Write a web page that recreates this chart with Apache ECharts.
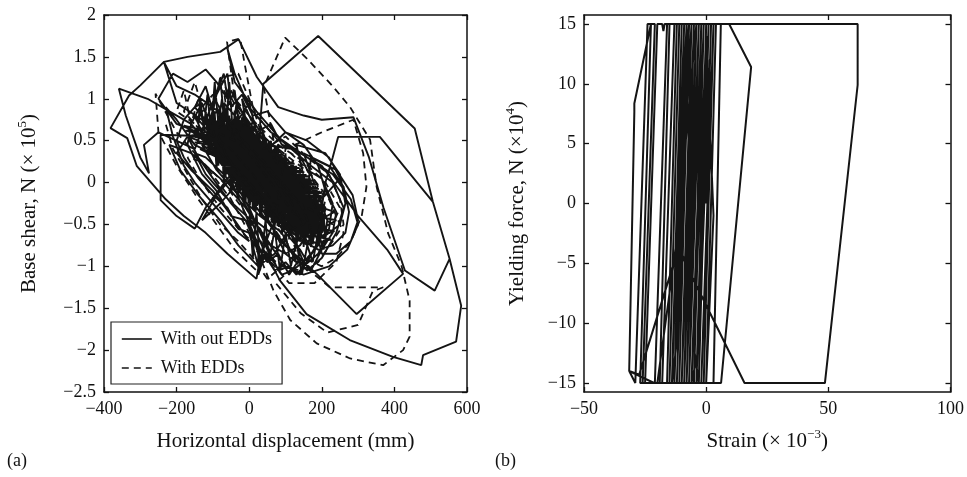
<!DOCTYPE html>
<html>
<head>
<meta charset="utf-8">
<script src="https://cdn.jsdelivr.net/npm/echarts@6/dist/echarts.min.js"></script>
<style>
html,body{margin:0;padding:0;background:#fff;}
#c{width:967px;height:477px;}
</style>
</head>
<body>
<div id="c"></div>
<script>
// ---- Panel (a): base shear vs horizontal displacement ----
var dispTicks = [-400, -200, 0, 200, 400, 600];
var shearTicks = [-2.5, -2, -1.5, -1, -0.5, 0, 0.5, 1, 1.5, 2];
var seriesNames = ['With out EDDs', 'With EDDs'];

// Without EDDs (solid), [displacement mm, base shear x1e5 N]
var withoutEDDs = [
[30,0],[90,-0.3],[140,-0.5],[120,-0.25],[60,0.1],[0,0.35],[-50,0.5],[-30,0.25],[20,-0.05],
[80,-0.35],[150,-0.65],[170,-0.45],[110,-0.1],[40,0.25],[-30,0.55],[-80,0.7],[-60,0.4],[0,0.05],
[60,-0.25],[120,-0.6],[160,-0.75],[180,-0.5],[130,-0.15],[70,0.15],[10,0.45],[-60,0.75],[-100,0.65],[-70,0.35],[-10,0],
[50,-0.3],[100,-0.5],[155,-0.55],[130,-0.3],[80,0],[20,0.3],[-40,0.45],[-20,0.15],[40,-0.15],
[110,-0.45],[175,-0.7],[195,-0.4],[150,-0.1],[90,0.2],[30,0.4],[-30,0.6],[-90,0.85],[-120,0.7],[-80,0.45],[-20,0.1],
[30,-0.2],[90,-0.55],[140,-0.8],[160,-0.95],[190,-0.7],[150,-0.35],[100,-0.05],[40,0.2],[-20,0.45],[-70,0.55],[-40,0.25],[10,-0.05],
[70,-0.3],[120,-0.45],[90,-0.2],[40,0.05],[-10,0.25],[-60,0.4],[-40,0.15],[10,-0.1],
[80,-0.4],[130,-0.7],[100,-0.55],[60,-0.3],[0,0],[-50,0.3],[-110,0.55],[-130,0.45],[-90,0.15],[-30,-0.15],[30,-0.4],
[90,-0.6],[130,-0.95],[100,-0.85],[60,-0.5],[20,-0.2],[-20,0.1],[-80,0.45],[-150,0.8],[-130,0.6],[-80,0.25],[-20,-0.05],[40,-0.3],
[100,-0.3],[160,-0.45],[200,-0.25],[170,0],[110,0.15],[50,0.4],[-10,0.65],[-70,0.95],[-60,0.7],[-10,0.35],[50,0],
[110,-0.2],[170,-0.3],[150,-0.05],[90,0.2],[20,0.5],[-40,0.8],[-20,0.55],[30,0.25],[80,-0.05],[120,-0.35],
[150,-0.6],[200,-0.6],[210,-0.3],[160,0],[100,0.3],[40,0.55],[0,0.8],[-20,1.0],[-10,0.75],[30,0.4],[80,0.1],
[130,-0.3],[170,-0.55],[140,-0.75],[100,-0.85],[60,-0.75],[20,-0.5],[-20,-0.2],[-70,0.1],[-120,0.3],[-150,0.35],[-120,0.1],[-70,-0.15],[-20,-0.35],[30,-0.55],[60,-0.85],[80,-1.05],[110,-1.0],[140,-1.1],[150,-0.95],
[120,-0.65],[70,-0.4],[20,-0.1],[-30,0.2],[-80,0.5],[-100,0.75],[-60,0.55],[0,0.2],[60,-0.1],[110,-0.35],[160,-0.4],[180,-0.15],[130,0.1],[70,0.35],[20,0.6],[-30,0.9],[-50,1.1],[-20,0.85],
[20,0.5],[70,0.2],[120,0],[170,-0.2],[200,-0.45],[190,-0.75],[160,-0.9],[120,-1.05],[90,-1.1],[60,-0.9],[30,-0.6],[0,-0.3],[-40,0],[-90,0.3],[-140,0.5],[-170,0.55],[-140,0.3],[-100,0.05],[-50,-0.25],[0,-0.5],[25,-0.85],[25,-1.1],[40,-0.9],
// dense core sweeps
[-105,0.6],[-25,0.575],[-110,0.55],[3,0.525],[-110,0.5],[28,0.475],[-108,0.45],[50,0.425],[-104,0.4],[70,0.375],[-98,0.35],[90,0.325],[-90,0.3],[109,0.275],[-82,0.25],[125,0.225],[-72,0.2],[139,0.175],[-62,0.15],[152,0.125],[-52,0.1],[164,0.075],[-40,0.05],[175,0.025],[-30,0],[184,-0.025],[-18,-0.05],[192,-0.075],[-5,-0.1],[198,-0.125],[8,-0.15],[202,-0.175],[22,-0.2],[204,-0.225],[36,-0.25],[205,-0.275],[50,-0.3],[204,-0.325],[66,-0.35],[200,-0.375],[82,-0.4],[194,-0.425],[100,-0.45],[185,-0.475],[120,-0.5],[173,-0.525],[140,-0.55],[160,-0.56],
[165,-0.54],[110,-0.49],[188,-0.46],[90,-0.44],[197,-0.41],[74,-0.39],[202,-0.36],[58,-0.34],[205,-0.31],[43,-0.29],[205,-0.26],[29,-0.24],[203,-0.21],[15,-0.19],[200,-0.16],[1,-0.14],[195,-0.11],[-12,-0.09],[190,-0.06],[-24,-0.04],[180,-0.01],[-35,0.01],[170,0.04],[-46,0.06],[158,0.09],[-57,0.11],[146,0.14],[-67,0.16],[132,0.19],[-77,0.21],[118,0.24],[-86,0.26],[100,0.29],[-94,0.31],[80,0.34],[-101,0.36],[60,0.39],[-106,0.41],[40,0.44],[-109,0.46],[15,0.49],[-110,0.51],[-10,0.54],[-108,0.56],[-40,0.59],[-100,0.61],
[-90,0.74],[-82,0.26],[-74,0.77],[-66,0.13],[-58,0.77],[-50,0.01],[-42,0.76],[-34,-0.09],[-26,0.75],[-18,-0.17],[-10,0.71],[-2,-0.25],[6,0.67],[14,-0.32],[22,0.61],[30,-0.38],[38,0.56],[46,-0.43],[54,0.5],[62,-0.48],[70,0.42],[78,-0.52],[86,0.34],[94,-0.56],[102,0.26],[110,-0.58],[118,0.17],[126,-0.6],[134,0.07],[142,-0.62],[150,-0.04],[158,-0.62],[166,-0.16],[174,-0.61],[182,-0.28],[190,-0.59],
[186,-0.31],[178,-0.61],[170,-0.19],[162,-0.62],[154,-0.07],[146,-0.62],[138,0.05],[130,-0.61],[122,0.15],[114,-0.59],[106,0.24],[98,-0.57],[90,0.32],[82,-0.53],[74,0.4],[66,-0.49],[58,0.48],[50,-0.45],[42,0.55],[34,-0.4],[26,0.6],[18,-0.34],[10,0.66],[2,-0.27],[-6,0.7],[-14,-0.19],[-22,0.74],[-30,-0.11],[-38,0.76],[-46,-0.02],[-54,0.77],[-62,0.1],[-70,0.77],[-78,0.22],[-86,0.75],[-94,0.4],
[-180,0.68],[-120,0.62],[-175,0.62],[-110,0.56],[-165,0.56],[-105,0.5],[-150,0.48],[-100,0.44],[-135,0.4],
[200,-0.3],[235,-0.35],[205,-0.42],[240,-0.45],[200,-0.55],[235,-0.58],[190,-0.65],[225,-0.68],[180,-0.72],
[-100,0.72],[-90,0.36],[-75,0.73],[-60,0.13],[-45,0.7],[-30,-0.04],[-15,0.65],[0,-0.19],[15,0.57],[30,-0.32],[45,0.47],[60,-0.42],[75,0.36],[90,-0.52],[105,0.23],[120,-0.6],[135,0.08],[150,-0.65],[165,-0.11],[180,-0.64],[195,-0.37],[205,-0.55],
[200,-0.6],[188,-0.2],[172,-0.72],[158,0.0],[142,-0.68],[128,0.15],[112,-0.6],[98,0.28],[82,-0.5],[68,0.4],[52,-0.38],[38,0.5],[22,-0.28],[8,0.6],[-8,-0.12],[-22,0.68],[-38,0.02],[-52,0.72],[-68,0.2],[-82,0.75],[-95,0.45],[-110,0.65],
[-120,0.84],[-110,0.33],[-100,0.91],[-90,0.16],[-80,0.92],[-70,0.01],[-60,0.9],[-50,-0.1],[-40,0.86],[-30,-0.18],[-20,0.78],[-10,-0.25],[0,0.71],[10,-0.32],[20,0.64],[30,-0.4],[40,0.57],[50,-0.47],[60,0.5],[70,-0.54],[80,0.42],[90,-0.61],[100,0.35],[110,-0.68],[120,0.27],[130,-0.74],[140,0.17],[150,-0.77],[160,0.05],[170,-0.77],[180,-0.11],[190,-0.75],[200,-0.29],[210,-0.68],
[205,-0.38],[195,-0.71],[185,-0.17],[175,-0.74],[165,-0.03],[155,-0.73],[145,0.09],[135,-0.67],[125,0.16],[115,-0.6],[105,0.23],[95,-0.53],[85,0.31],[75,-0.46],[65,0.38],[55,-0.39],[45,0.45],[35,-0.31],[25,0.52],[15,-0.24],[5,0.59],[-5,-0.17],[-15,0.67],[-25,-0.1],[-35,0.74],[-45,-0.03],[-55,0.8],[-65,0.08],[-75,0.83],[-85,0.2],[-95,0.82],[-105,0.38],[-115,0.76],
[-100,0.35],[-60,0.9],[-70,0.1],[-10,0.75],[-30,-0.1],[30,0.6],[10,-0.3],[80,0.45],[50,-0.45],[120,0.25],[90,-0.6],[160,0.0],[130,-0.72],[195,-0.3],[170,-0.75],
// halo loops
[-150,0.9],[-120,1.15],[-100,0.85],[-80,1.25],[-70,0.8],[-40,1.1],[-30,0.75],[0,0.95],[20,0.6],[60,0.7],[90,0.45],[130,0.4],[160,0.15],[200,0.05],[230,-0.25],[220,-0.55],[190,-0.85],[150,-1.0],[130,-1.1],[100,-0.95],[70,-1.05],[40,-0.85],[25,-1.0],[0,-0.6],[-30,-0.55],[-60,-0.3],[-100,-0.15],[-140,0.05],[-180,0.3],[-200,0.5],[-180,0.75],[-150,0.9],
[-130,0.95],[-110,0.7],[-90,1.05],[-60,1.3],[-50,0.9],[-20,1.05],[10,0.8],[50,0.85],[100,0.6],[150,0.45],[190,0.2],[210,-0.1],[240,-0.35],[230,-0.6],[200,-0.8],[170,-1.05],[140,-0.9],[110,-1.1],[80,-0.85],[50,-0.95],[20,-0.75],[-10,-0.45],[-50,-0.4],[-90,-0.1],[-130,0.1],[-170,0.45],[-160,0.7],[-130,0.95],
[-140,0.7],[-135,1.0],[-125,0.65],[-115,1.05],[-105,0.6],[-95,1.2],[-85,0.7],[-75,1.0],[-65,0.55],[-55,1.2],[-45,0.6],[-35,0.95],[-25,0.5],[-15,0.85],[-5,0.45],[10,0.75],[30,0.45],
[0,-0.3],[10,-0.9],[20,-0.35],[30,-1.05],[45,-0.45],[55,-0.95],[70,-0.55],[85,-1.05],[100,-0.6],[115,-1.0],[130,-0.7],[145,-1.1],[160,-0.75],[175,-0.95],[190,-0.6],[205,-0.8],[215,-0.45],
[150,0.35],[220,0.2],[260,-0.05],[275,-0.35],[265,-0.6],[230,-0.75],[190,-0.8],[150,-0.7],
[170,0.3],[240,0.15],[285,-0.15],[300,-0.45],[280,-0.7],[240,-0.85],[200,-0.85],
[130,0.45],[210,0.35],[250,0.1],[265,-0.25],[250,-0.5],[205,-0.65],
[-80,0.3],[-150,0.45],[-200,0.75],[-230,0.9],[-210,0.55],[-180,0.2],[-150,0],[-110,-0.2],[-70,-0.4],[-30,-0.6],[0,-0.7],[-40,-0.45],[-100,-0.1],[-160,0.15],[-200,0.35],[-170,0.55],[-120,0.6],
// outer excursions
[-20,0.6],[-100,0.9],[-150,1.05],[-200,1.15],[-235,1.44],[-300,1.16],[-331,1.04],[-382,0.65],[-336,0.53],[-310,0.2],[-270,0],[-230,-0.2],[-180,-0.4],[-120,-0.6],[-60,-0.85],[20,-1.15],[30,-0.9],[60,-0.55],
[100,-0.3],[40,0.1],[-30,0.45],[-130,0.75],[-200,0.95],[-235,1.44],[-170,1.5],[-80,1.56],[-29,1.71],[21,1.26],[80,0.9],[150,0.8],[200,0.75],[287,0.78],[330,0.3],[370,-0.3],[429,-1.05],[511,-1.29],[552,-0.91],[506,-0.23],[360,0.545],[245,0.545],[230,0.3],[210,0],[200,-0.3],[150,-0.6],
[100,-0.2],[30,0.7],[39,1.18],[190,1.75],[456,0.645],[506,-0.23],[552,-0.91],[584,-1.47],[570,-1.9],[479,-2.06],[474,-2.18],[396,-2.08],[277,-1.88],[158,-1.57],[85,-1.17],[40,-0.8],[0,-0.4],
[60,-0.6],[186,-1.09],[296,-1.57],[424,-1.09],[380,-0.8],[300,-0.4],[250,-0.1],[200,0.2],[120,0.4],
[-100,0.55],[-244,0.57],[-244,-0.21],[-200,-0.4],[-150,-0.55],[-120,-0.3],[-50,0.1],
[-160,0.7],[-280,1.0],[-359,1.12],[-340,0.8],[-300,0.3],[-276,0.11],[-290,0.45],[-250,0.6],[-150,0.4],
[-70,1.3],[-60,1.0],[-90,1.2],[-120,1.35],[-170,1.2],[-210,1.3],[-250,1.0],[-200,0.7],[-140,0.6],
[-60,0.2],[20,-0.3],[100,-0.75],[160,-1.05],[200,-0.9],[240,-0.6],[260,-0.3],[230,0],[170,0.2],[90,0.5],[20,0.85],[-40,1.2],[-60,1.6],[-40,1.3],[0,0.9],
[60,0.6],[160,0.3],[230,0.1],[280,-0.2],[300,-0.5],[270,-0.8],[220,-1.0],[150,-1.1],[100,-1.0],[50,-0.7],
[-10,-0.3],[-80,0.05],[-160,0.35],[-220,0.45],[-190,0.15],[-140,-0.15],[-80,-0.45],[-30,-0.75],[25,-1.0],[70,-0.85],[110,-0.55],[160,-0.3],[210,-0.15],[250,0.05],[220,0.3],[160,0.5],[100,0.6],
[40,0.35],[-20,0.05],[-80,-0.25],[-130,-0.45],[-90,-0.15],[-40,0.1],[20,0.4]
];

// With EDDs (dashed)
var withEDDs = [
[0,0],[60,-0.3],[120,-0.55],[150,-0.5],[110,-0.2],[50,0.15],[-10,0.45],[-70,0.7],[-100,0.6],[-60,0.3],[0,-0.05],
[70,-0.4],[130,-0.7],[170,-0.6],[150,-0.3],[90,0],[30,0.3],[-40,0.6],[-110,0.9],[-150,0.8],[-120,0.45],[-60,0.15],[0,-0.2],
[60,-0.5],[110,-0.8],[150,-1.0],[180,-0.8],[200,-0.45],[160,-0.1],[100,0.2],[30,0.5],[-30,0.8],[-70,1.1],[-60,0.8],[-10,0.45],
[60,0.1],[120,-0.2],[180,-0.35],[230,-0.5],[250,-0.3],[210,0],[150,0.25],[80,0.45],[20,0.7],[-40,1.0],[-61,1.68],[-25,1.72],[-11,1.38],[10,0.9],[40,0.5],
[80,0.2],[40,1.14],[99,1.73],[159,1.48],[230,1.15],[278,0.9],[333,0.51],[351,-0.05],[383,-0.61],[420,-1.0],[442,-1.41],[442,-1.84],[424,-2.0],[369,-2.18],[278,-2.1],[186,-1.92],[113,-1.64],[67,-1.29],[40,-1.0],[0,-0.6],
[-50,-0.2],[-120,0.2],[-200,0.6],[-258,1.06],[-250,0.6],[-200,0.2],[-140,-0.2],[-90,-0.5],[-40,-0.8],[20,-1.05],[60,-0.8],
[100,0.4],[200,0.6],[287,0.75],[314,0.35],[323,-0.05],[310,-0.4],[280,-0.7],[240,-0.9],[200,-1.0],[150,-0.9],
[73,-1.2],[142,-1.56],[215,-1.79],[300,-1.7],[340,-1.3],[369,-1.25],[222,-1.25],[180,-1.1],[130,-0.9],
[80,-0.55],[20,-0.2],[-40,0.15],[-100,0.45],[-180,0.85],[-150,1.2],[-130,0.9],[-100,1.05],[-60,0.7],[0,0.35],
[60,0],[120,-0.35],[170,-0.55],[140,-0.25],[80,0.05],[20,0.3],[-40,0.5],[-90,0.6],[-60,0.3],[0,0],[50,-0.25],[100,-0.5],
[140,-0.7],[190,-0.6],[210,-0.2],[170,0.1],[110,0.3],[50,0.5],[-10,0.7],[-80,1.25],[-30,1.3],[20,0.8],[80,0.5],[150,0.2],
[220,-0.2],[260,-0.6],[240,-0.95],[180,-1.2],[110,-1.2],[60,-0.95],[20,-0.6],[-20,-0.3],[-70,0],[-130,0.25],[-170,0.3],
[-130,0],[-80,-0.3],[-30,-0.55],[30,-0.8],[90,-1.0],[130,-0.85],[110,-0.5],[60,-0.2],[10,0.1],[-50,0.4],
[-200,0.85],[-180,1.1],[-160,0.7],[-140,1.0],[-120,0.55],[-80,0.9],[-40,0.5],[0,0.8],[40,0.4],[100,0.55],[160,0.3],[220,0.1],[250,-0.2],[260,-0.5],[230,-0.7],[190,-0.95],[140,-1.05],[90,-1.0],[50,-1.15],[10,-0.9],[-30,-0.7],[-80,-0.5],[-130,-0.2],[-170,0.1],[-210,0.4],[-230,0.7]
];

// ---- Panel (b): yielding force vs strain ----
var strainTicks = [-50, 0, 50, 100];
var forceTicks = [-15, -10, -5, 0, 5, 10, 15];
// [strain x1e-3, force x1e4 N]
var forceStrain = [
[0,0],[2,15],[-2,15],[-5,-15],[-2,-15],[3,15],[0,15],[-3,-15],[-7,-15],[-3,15],[-6,15],[-10,-15],[-8,-15],[-4,15],
[-9,15],[-13,-15],[-18,-15],[-13,15],[-16,15],[-21,-15],[-25,-15],[-20,15],[-18,15],[-17.5,14.4],[-17,15],
[-8,15],[-13,-15],[-10,-15],[-5,15],[-2,15],[-7,-15],[-4,-15],[1,15],[-1,15],[-6,-15],[-3,-12],[1.5,12],[1.5,5.8],[-1,-15],
[-9,-15],[-5,15],[-10,15],[-14,-15],[-12,-11.5],[-8,13],[-7,15],[-11,-15],[-4,-15],[0,15],[4,15],[0,-15],[3,-15],[6,15],[3,15],[-1,-15],
[-27,-15],[-22.6,15],[-29.4,8.35],[-29.4,7.65],[-31.5,-14],[-27.4,-14.3],[-11,-3.5],[-6,15],[-9,15],[-14,-15],[-21.3,-15],
[-31.5,-14],[-29,-15],[-24,15],[-21,15],[-26,-15],[-19,-15],[-15,15],[-12,15],[-16,-15],[-8,-15],[-3,15],[-1,15],[-5,-15],
[6.1,-15],[18.4,11.4],[9.4,15],[-1,15],[-6,-15],[-10,-15],[-5,15],[-16.3,15],[62,15],[62,9.9],[48.6,-15],[15.7,-15],[-8.3,-5.06],[-12,-3],
[-8,15],[-11,15],[-15,-15],[-12,-15],[-7,15],[-4,15],[-9,-15],[-6,-15],[-1,15],[1,15],[-3,-15],[-5,-12],[0,14],[3,-1],[0,-15],[-20,-15],[-12,-3],[-4,15]
];

function fmt(v){ return String(v).replace('-', '\u2212'); }
var FONT = 'Liberation Serif';
var INK = '#141414';

function axisBase(){
  return {
    type: 'value',
    axisLine: {show: true, onZero: false, lineStyle: {color: '#111', width: 1.5}},
    axisTick: {show: true, inside: true, length: 5, lineStyle: {color: '#111', width: 1.3}},
    splitLine: {show: false}
  };
}
function mainAxis(extra){
  var a = axisBase();
  a.axisLabel = {show: true, color: '#111', fontFamily: FONT, fontSize: 18, margin: 8, formatter: fmt};
  for (var k in extra) a[k] = extra[k];
  return a;
}
function mirrorAxis(extra){
  var a = axisBase();
  a.axisLabel = {show: false};
  for (var k in extra) a[k] = extra[k];
  return a;
}

var nameStyle = {
  fontFamily: FONT, fontSize: 21, color: '#111', lineHeight: 26,
  rich: {sup: {fontFamily: FONT, fontSize: 13, lineHeight: 13, verticalAlign: 'top', color: '#111'}}
};

var chart = echarts.init(document.getElementById('c'), null, {renderer: 'canvas'});
chart.setOption({
  animation: false,
  backgroundColor: '#fff',
  grid: [
    {left: 104, right: 500, top: 15, bottom: 85},
    {left: 584, right: 15, top: 15, bottom: 85}
  ],
  xAxis: [
    mainAxis({gridIndex: 0, position: 'bottom', min: dispTicks[0], max: dispTicks[dispTicks.length-1], interval: 200,
      name: 'Horizontal displacement (mm)', nameLocation: 'middle', nameGap: 36, nameTextStyle: nameStyle}),
    mirrorAxis({gridIndex: 0, position: 'top', min: dispTicks[0], max: dispTicks[dispTicks.length-1], interval: 200}),
    mainAxis({gridIndex: 1, position: 'bottom', min: strainTicks[0], max: strainTicks[strainTicks.length-1], interval: 50,
      name: 'Strain (\u00d7 10{sup|\u22123})', nameLocation: 'middle', nameGap: 36, nameTextStyle: nameStyle}),
    mirrorAxis({gridIndex: 1, position: 'top', min: strainTicks[0], max: strainTicks[strainTicks.length-1], interval: 50})
  ],
  yAxis: [
    mainAxis({gridIndex: 0, position: 'left', min: shearTicks[0], max: shearTicks[shearTicks.length-1], interval: 0.5,
      name: 'Base shear, N (\u00d7 10{sup|5})', nameLocation: 'middle', nameGap: 62, nameRotate: 90, nameTextStyle: nameStyle}),
    mirrorAxis({gridIndex: 0, position: 'right', min: shearTicks[0], max: shearTicks[shearTicks.length-1], interval: 0.5}),
    (function(){
      var a = mainAxis({gridIndex: 1, position: 'left', min: -15.75, max: 15.75,
        name: 'Yielding force, N (\u00d710{sup|4})', nameLocation: 'middle', nameGap: 54, nameRotate: 90, nameTextStyle: nameStyle});
      a.axisLabel.customValues = forceTicks;
      a.axisTick.customValues = forceTicks;
      return a;
    })(),
    (function(){
      var a = mirrorAxis({gridIndex: 1, position: 'right', min: -15.75, max: 15.75});
      a.axisTick.customValues = forceTicks;
      return a;
    })()
  ],
  legend: {
    data: seriesNames,
    orient: 'vertical',
    left: 111, top: 322,
    itemWidth: 30, itemHeight: 14, itemGap: 11,
    padding: [8, 10, 7, 10],
    backgroundColor: '#fff',
    borderColor: '#222', borderWidth: 1.2, borderRadius: 0,
    itemStyle: {color: 'rgba(0,0,0,0)', borderWidth: 0, opacity: 0},
    lineStyle: {width: 1.6},
    textStyle: {fontFamily: FONT, fontSize: 18, color: '#111', padding: [0, 0, 0, 4]},
    selectedMode: false
  },
  series: [
    {name: seriesNames[0], type: 'line', xAxisIndex: 0, yAxisIndex: 0, data: withoutEDDs, symbol: 'none',
      lineStyle: {color: INK, width: 1.9, type: 'solid'}, itemStyle: {color: INK}, z: 2},
    {name: seriesNames[1], type: 'line', xAxisIndex: 0, yAxisIndex: 0, data: withEDDs, symbol: 'none',
      lineStyle: {color: INK, width: 1.8, type: [7, 5]}, itemStyle: {color: INK}, z: 2},
    {name: 'force', type: 'line', xAxisIndex: 2, yAxisIndex: 2, data: forceStrain, symbol: 'none',
      lineStyle: {color: INK, width: 2.0}, itemStyle: {color: INK}}
  ],
  graphic: [
    {type: 'text', left: 7, top: 452, style: {text: '(a)', font: '18px "Liberation Serif"', fill: '#111'}},
    {type: 'text', left: 495, top: 452, style: {text: '(b)', font: '18px "Liberation Serif"', fill: '#111'}}
  ]
});
</script>
</body>
</html>
